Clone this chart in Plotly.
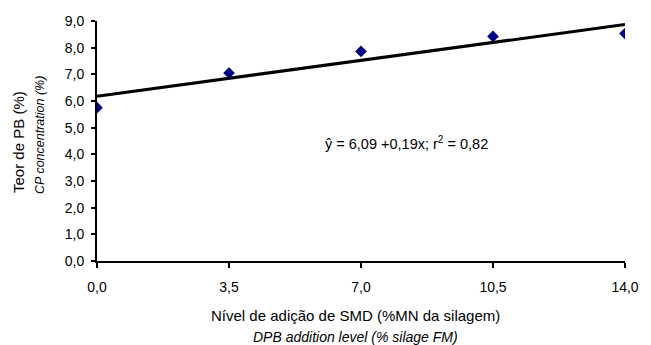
import plotly.graph_objects as go

# data
x_levels = [0.0, 3.5, 7.0, 10.5, 14.0]
cp_values = [5.75, 7.05, 7.86, 8.42, 8.53]
x_tick_vals = [0.0, 3.5, 7.0, 10.5, 14.0]
x_tick_text = ["0,0", "3,5", "7,0", "10,5", "14,0"]
y_tick_vals = [0, 1, 2, 3, 4, 5, 6, 7, 8, 9]
y_tick_text = ["0,0", "1,0", "2,0", "3,0", "4,0", "5,0", "6,0", "7,0", "8,0", "9,0"]
trend_intercept = 6.18
trend_slope = 0.192

trend_x = [x_levels[0], x_levels[-1]]
trend_y = [trend_intercept + trend_slope * v for v in trend_x]

font_family = "Liberation Sans, Arial, sans-serif"

fig = go.Figure()
fig.add_trace(go.Scatter(x=trend_x, y=trend_y, mode="lines",
                         line=dict(color="black", width=3), showlegend=False,
                         hoverinfo="skip"))
fig.add_trace(go.Scatter(x=x_levels, y=cp_values, mode="markers",
                         marker=dict(symbol="diamond", size=9, color="#000080",
                                     line=dict(width=0)),
                         showlegend=False))

fig.update_layout(
    width=651, height=345,
    margin=dict(l=97, r=19, t=21, b=84),
    paper_bgcolor="white", plot_bgcolor="white",
    font=dict(family=font_family, size=14, color="black"),
    xaxis=dict(range=[0, 14], tickvals=x_tick_vals, ticktext=x_tick_text,
               showgrid=False, zeroline=False, showline=True,
               linecolor="black", linewidth=2, ticks="outside",
               ticklen=5, tickwidth=2, tickcolor="black",
               ticklabelstandoff=7,
               tickfont=dict(size=14)),
    yaxis=dict(range=[0, 9], tickvals=y_tick_vals, ticktext=y_tick_text,
               showgrid=False, zeroline=False, showline=True,
               linecolor="black", linewidth=2, ticks="outside",
               ticklen=4, tickwidth=2, tickcolor="black",
               ticklabelstandoff=4,
               tickfont=dict(size=14)),
    annotations=[
        dict(text="Nível de adição de SMD (%MN da silagem)", xref="paper", yref="paper",
             x=0.49, y=-0.225, xanchor="center", yanchor="middle", showarrow=False,
             font=dict(size=15)),
        dict(text="<i>DPB addition level (% silage FM)</i>", xref="paper", yref="paper",
             x=0.49, y=-0.317, xanchor="center", yanchor="middle", showarrow=False,
             font=dict(size=14)),
        dict(text="Teor de PB (%)", xref="paper", yref="paper",
             x=-0.1477, y=0.496, textangle=-90, xanchor="center", yanchor="middle",
             showarrow=False, font=dict(size=15)),
        dict(text="<i>CP concentration (%)</i>", xref="paper", yref="paper",
             x=-0.108, y=0.525, textangle=-90, xanchor="center", yanchor="middle",
             showarrow=False, font=dict(size=12.5)),
        dict(text="ŷ = 6,09 +0,19x; r<sup>2</sup> = 0,82", xref="x", yref="y",
             x=6.0, y=4.43, xanchor="left", yanchor="middle", showarrow=False,
             font=dict(size=14.5)),
    ],
)

fig.write_html("out.html")
